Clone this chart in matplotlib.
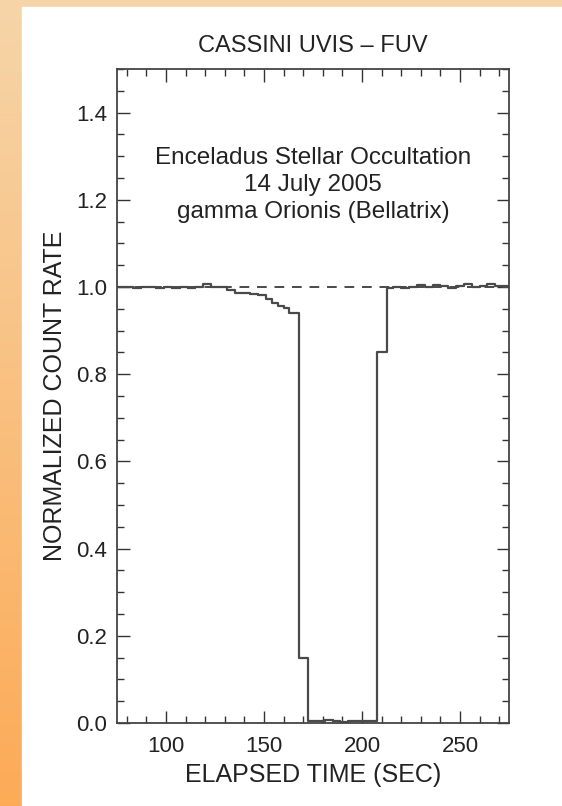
import numpy as np
import matplotlib.pyplot as plt
from matplotlib.ticker import MultipleLocator
from matplotlib.patches import Rectangle

plt.rcParams["font.family"] = ["Liberation Sans", "DejaVu Sans"]

# bin start times (sec) and normalized count rate per bin
times = [75, 79, 83, 87, 91, 95, 99, 103, 107, 111, 115, 119, 123, 127,
         131, 135, 139, 143, 147, 151, 154, 157, 160, 163, 168, 172.5,
         177, 181, 185, 189, 193, 197, 201, 207.5, 212.5, 216, 220, 224,
         228, 232, 236, 240, 244, 248, 252, 256, 260, 264, 268, 272, 275]
rate = [0.999, 1.0, 0.998, 1.001, 0.999, 0.997, 1.0, 0.998, 1.0, 0.997,
        1.001, 1.006, 1.0, 0.999, 0.993, 0.986, 0.986, 0.984, 0.982, 0.972,
        0.963, 0.957, 0.952, 0.94, 0.149, 0.004, 0.004, 0.007, 0.004, 0.003,
        0.004, 0.005, 0.004, 0.85, 0.998, 0.999, 0.998, 1.001, 1.005, 1.0,
        1.004, 1.003, 0.997, 1.002, 1.006, 0.999, 1.003, 1.008, 1.002,
        1.002, 1.002]

title = "CASSINI UVIS \u2013 FUV"
note = "Enceladus Stellar Occultation\n14 July 2005\ngamma Orionis (Bellatrix)"

fig = plt.figure(figsize=(5.62, 8.06), dpi=100)

# orange frame background
bg = fig.add_axes([0, 0, 1, 1], zorder=-10)
grad = np.linspace(0, 1, 256).reshape(-1, 1)
c_top = np.array([0.965, 0.835, 0.66])
c_bot = np.array([0.99, 0.67, 0.34])
img = c_top + grad[..., None] * (c_bot - c_top)
bg.imshow(img, aspect="auto", extent=[0, 1, 0, 1], origin="upper")
bg.add_patch(Rectangle((22 / 562, 0), 1, 1 - 7 / 806, color="white"))
bg.set_xlim(0, 1)
bg.set_ylim(0, 1)
bg.axis("off")

ax = fig.add_axes([117 / 562, 1 - 723 / 806, 392 / 562, 654 / 806])
ax.set_facecolor("none")
ax.step(times, rate, where="post", color="#4a4a4a", lw=1.6)
ax.axhline(1.0, color="#4a4a4a", lw=1.4, ls=(0, (5, 4)))

ax.set_xlim(75, 275)
ax.set_ylim(0, 1.5)
ax.xaxis.set_major_locator(MultipleLocator(50))
ax.xaxis.set_minor_locator(MultipleLocator(10))
ax.yaxis.set_major_locator(MultipleLocator(0.2))
ax.yaxis.set_minor_locator(MultipleLocator(0.05))
ax.yaxis.set_major_formatter(lambda v, p: f"{v:.1f}")
ax.tick_params(which="both", direction="in", top=True, right=True,
               color="#333333", width=1.0, labelsize=16, colors="#222222")
ax.tick_params(which="major", length=9)
ax.tick_params(which="minor", length=5)
ax.tick_params(axis="x", pad=9)
ax.tick_params(axis="y", pad=7)
for s in ax.spines.values():
    s.set_color("#444444")
    s.set_linewidth(1.3)

ax.set_title(title, fontsize=17, color="#222222", pad=12)
ax.set_xlabel("ELAPSED TIME (SEC)", fontsize=18, color="#222222", labelpad=5)
ax.set_ylabel("NORMALIZED COUNT RATE", fontsize=18, color="#222222", labelpad=7)
ax.text(0.5, 0.88, note, transform=ax.transAxes, ha="center", va="top",
        fontsize=17.5, color="#222222", linespacing=1.28)

fig.savefig("out.png", dpi=100)
